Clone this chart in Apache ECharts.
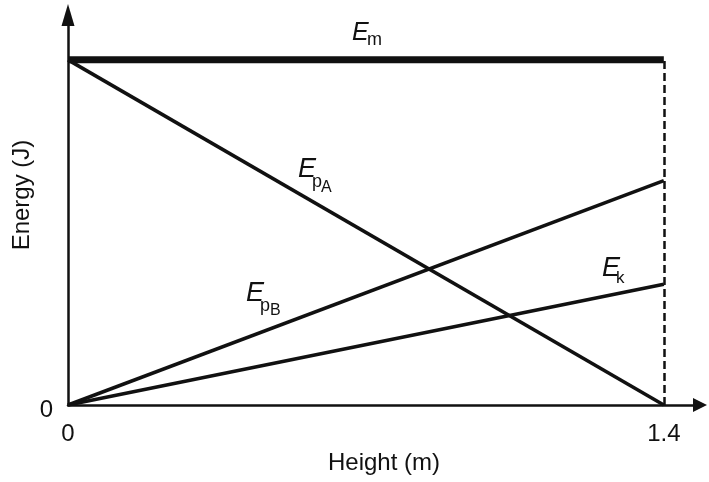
<!DOCTYPE html>
<html>
<head>
<meta charset="utf-8">
<title>Energy vs height</title>
<script src="https://cdn.jsdelivr.net/npm/echarts@6/dist/echarts.min.js"></script>
<style>
  html, body { margin: 0; padding: 0; background: #fff; }
  #chart { width: 709px; height: 482px; }
</style>
</head>
<body>
<div id="chart"></div>
<script>
// heights at the two ends of the graph (m)
const heights = [0, 1.4];
// energies, as a share of the mechanical energy
const emValues = [100, 100];
const epAValues = [100, 0];
const epBValues = [0, 65];
const ekValues = [0, 35];
const xTickLabels = [0, 1.4];
const yTickLabels = [0];

const font = '"Liberation Sans", Arial, sans-serif';
const toPairs = vals => heights.map((h, i) => [h, vals[i]]);

// E with subscripts, built from separate text pieces
function energyLabel(parts) {
    return parts.map(p => ({
        type: 'text',
        x: p.x,
        y: p.y,
        silent: true,
        style: {
            text: p.t,
            fontFamily: font,
            fontSize: p.s,
            fontStyle: p.i ? 'italic' : 'normal',
            fill: '#111',
            align: 'left',
            verticalAlign: 'middle'
        }
    }));
}

const chart = echarts.init(document.getElementById('chart'));

const lineStyleOf = w => ({ color: '#111', width: w });

chart.setOption({
    animation: false,
    grid: { left: 68, right: 9, top: 15, bottom: 77 },
    xAxis: {
        type: 'value',
        min: 0,
        max: 1.485,
        name: 'Height (m)',
        nameLocation: 'middle',
        nameGap: 44,
        nameTextStyle: { fontFamily: font, fontSize: 24, color: '#111' },
        splitLine: { show: false },
        axisTick: { show: false },
        axisLine: {
            show: true,
            lineStyle: { color: '#111', width: 2.5 },
            symbol: ['none', 'triangle'],
            symbolSize: [14, 14]
        },
        axisLabel: {
            customValues: xTickLabels,
            margin: 17,
            fontFamily: font,
            fontSize: 24,
            color: '#111',
            formatter: v => String(v)
        }
    },
    yAxis: {
        type: 'value',
        min: 0,
        max: 113,
        splitLine: { show: false },
        axisTick: { show: false },
        axisLine: {
            show: true,
            lineStyle: { color: '#111', width: 2.5 },
            symbol: ['none', 'triangle'],
            symbolSize: [13, 22]
        },
        axisLabel: {
            customValues: yTickLabels,
            margin: 15,
            formatter: v => '{z|' + v + '}',
            rich: {
                z: { fontFamily: font, fontSize: 24, color: '#111', padding: [10, 0, 0, 0] }
            }
        }
    },
    series: [
        {
            name: 'Em',
            type: 'line',
            data: toPairs(emValues),
            symbol: 'none',
            lineStyle: lineStyleOf(7),
            markLine: {
                silent: true,
                symbol: 'none',
                label: { show: false },
                lineStyle: { color: '#111', width: 2.5, type: [8, 4] },
                data: [[{ coord: [heights[1], 0] }, { coord: [heights[1], emValues[1]] }]]
            }
        },
        { name: 'EpA', type: 'line', data: toPairs(epAValues), symbol: 'none', lineStyle: lineStyleOf(3.5) },
        { name: 'EpB', type: 'line', data: toPairs(epBValues), symbol: 'none', lineStyle: lineStyleOf(3.5) },
        { name: 'Ek', type: 'line', data: toPairs(ekValues), symbol: 'none', lineStyle: lineStyleOf(3.5) }
    ],
    graphic: [
        {
            type: 'text',
            x: 22,
            y: 195,
            rotation: Math.PI / 2,
            silent: true,
            style: {
                text: 'Energy (J)',
                fontFamily: font,
                fontSize: 24,
                fill: '#111',
                align: 'center',
                verticalAlign: 'middle'
            }
        },
        ...energyLabel([
            { t: 'E', x: 352, y: 33, s: 25, i: true },
            { t: 'm', x: 367, y: 40, s: 18 }
        ]),
        ...energyLabel([
            { t: 'E', x: 298, y: 169, s: 27, i: true },
            { t: 'p', x: 312, y: 182, s: 18 },
            { t: 'A', x: 321, y: 188, s: 16 }
        ]),
        ...energyLabel([
            { t: 'E', x: 246, y: 293, s: 27, i: true },
            { t: 'p', x: 260, y: 306, s: 18 },
            { t: 'B', x: 270, y: 311, s: 16 }
        ]),
        ...energyLabel([
            { t: 'E', x: 602, y: 268, s: 27, i: true },
            { t: 'k', x: 616, y: 278, s: 17 }
        ])
    ]
});
</script>
</body>
</html>
